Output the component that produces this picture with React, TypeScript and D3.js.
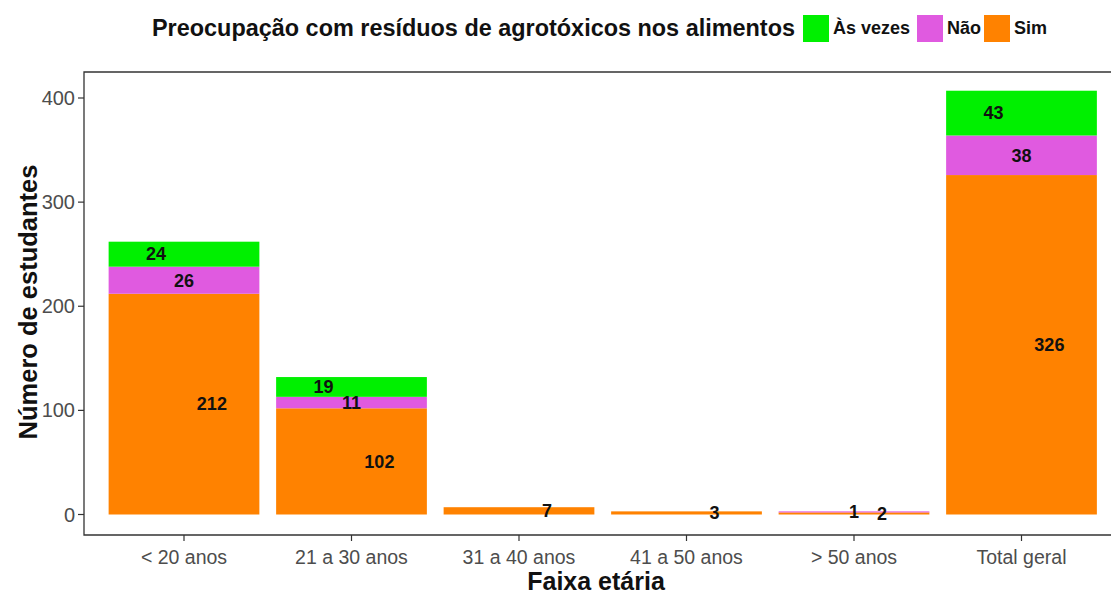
import React from "react";
import * as d3 from "d3";

const categories = ["< 20 anos", "21 a 30 anos", "31 a 40 anos", "41 a 50 anos", "> 50 anos", "Total geral"];
const seriesNames = ["Sim", "Não", "Às vezes"];
const simValues = [212, 102, 7, 3, 2, 326];
const naoValues = [26, 11, 0, 0, 1, 38];
const asVezesValues = [24, 19, 0, 0, 0, 43];
const yTicks = [0, 100, 200, 300, 400];
const legendOrder = ["Às vezes", "Não", "Sim"];

const colors: Record<string, string> = { "Sim": "#FF8200", "Não": "#E05AE0", "Às vezes": "#00F000" };
const labelShift: Record<string, number> = { "Sim": 0.185, "Não": 0, "Às vezes": -0.185 };

const W = 1111, H = 596;
const panel = { left: 84, top: 72, right: 1122, bottom: 535 };

export default function App() {
  const x = d3.scaleBand<string>().domain(categories).range([83.5, 1122]).paddingInner(0.1).paddingOuter(0.15);
  const y = d3.scaleLinear().domain([0, 400]).range([514.5, 98]);

  const rows = categories.map((c, i) => ({ cat: c, "Sim": simValues[i], "Não": naoValues[i], "Às vezes": asVezesValues[i] }));
  const stack = d3.stack<any>().keys(seriesNames)(rows);

  const font = "'Liberation Sans', Arial, Helvetica, sans-serif";
  const axisCol = "#333333";
  const tickText = "#4D4D4D";

  return (
    <div style={{ position: "fixed", left: 0, top: 0 }}>
      <svg width={W} height={H} style={{ display: "block", background: "#fff" }} fontFamily={font}>
        <rect x={0} y={0} width={W} height={H} fill="#fff" />
        {/* bars */}
        {stack.map((s) =>
          s.map((d, i) => {
            const h = y(d[0]) - y(d[1]);
            if (h <= 0) return null;
            return (
              <rect key={s.key + i} x={x(categories[i])} y={y(d[1])} width={x.bandwidth()} height={h} fill={colors[s.key]} />
            );
          })
        )}
        {/* labels */}
        {stack.map((s) =>
          s.map((d, i) => {
            const v = d[1] - d[0];
            if (v <= 0) return null;
            const cx = (x(categories[i]) as number) + x.bandwidth() / 2 + labelShift[s.key] * x.bandwidth();
            return (
              <text key={"l" + s.key + i} x={cx} y={y((d[0] + d[1]) / 2)} dy="0.35em" textAnchor="middle"
                fontWeight="bold" fontSize={18} fill="#111">{v}</text>
            );
          })
        )}
        {/* panel border: left, top, bottom */}
        <path d={`M${W},${panel.top}H${panel.left}V${panel.bottom}H${W}`} fill="none" stroke={axisCol} strokeWidth={1.3} />
        {/* y axis ticks */}
        {yTicks.map((t) => (
          <g key={"yt" + t}>
            <line x1={panel.left - 6} x2={panel.left} y1={y(t)} y2={y(t)} stroke={axisCol} strokeWidth={1.2} />
            <text x={panel.left - 9} y={y(t)} dy="0.35em" textAnchor="end" fontSize={20} fill={tickText}>{t}</text>
          </g>
        ))}
        {/* x axis ticks */}
        {categories.map((c) => {
          const cx = (x(c) as number) + x.bandwidth() / 2;
          return (
            <g key={"xt" + c}>
              <line x1={cx} x2={cx} y1={panel.bottom} y2={panel.bottom + 6} stroke={axisCol} strokeWidth={1.2} />
              <text x={cx} y={panel.bottom + 22} dy="0.35em" textAnchor="middle" fontSize={19.5} fill={tickText}>{c}</text>
            </g>
          );
        })}
        {/* axis titles */}
        <text x={596} y={581} dy="0.35em" textAnchor="middle" fontWeight="bold" fontSize={25} fill="#111">Faixa etária</text>
        <text transform={`translate(28,302) rotate(-90)`} dy="0.35em" textAnchor="middle" fontWeight="bold" fontSize={25.5} fill="#111">Número de estudantes</text>
        {/* legend title */}
        <text x={152} y={28} dy="0.35em" fontWeight="bold" fontSize={23} textLength={643} lengthAdjust="spacingAndGlyphs" fill="#111">Preocupação com resíduos de agrotóxicos nos alimentos</text>
        {/* legend */}
        {(() => {
          const items = [
            { k: legendOrder[0], kx: 803, tx: 833 },
            { k: legendOrder[1], kx: 917, tx: 947 },
            { k: legendOrder[2], kx: 984, tx: 1014 },
          ];
          return items.map((it) => (
            <g key={"lg" + it.k}>
              <rect x={it.kx} y={15} width={26} height={27} fill={colors[it.k]} />
              <text x={it.tx} y={28} dy="0.35em" fontWeight="bold" fontSize={18} fill="#111">{it.k}</text>
            </g>
          ));
        })()}
      </svg>
    </div>
  );
}
